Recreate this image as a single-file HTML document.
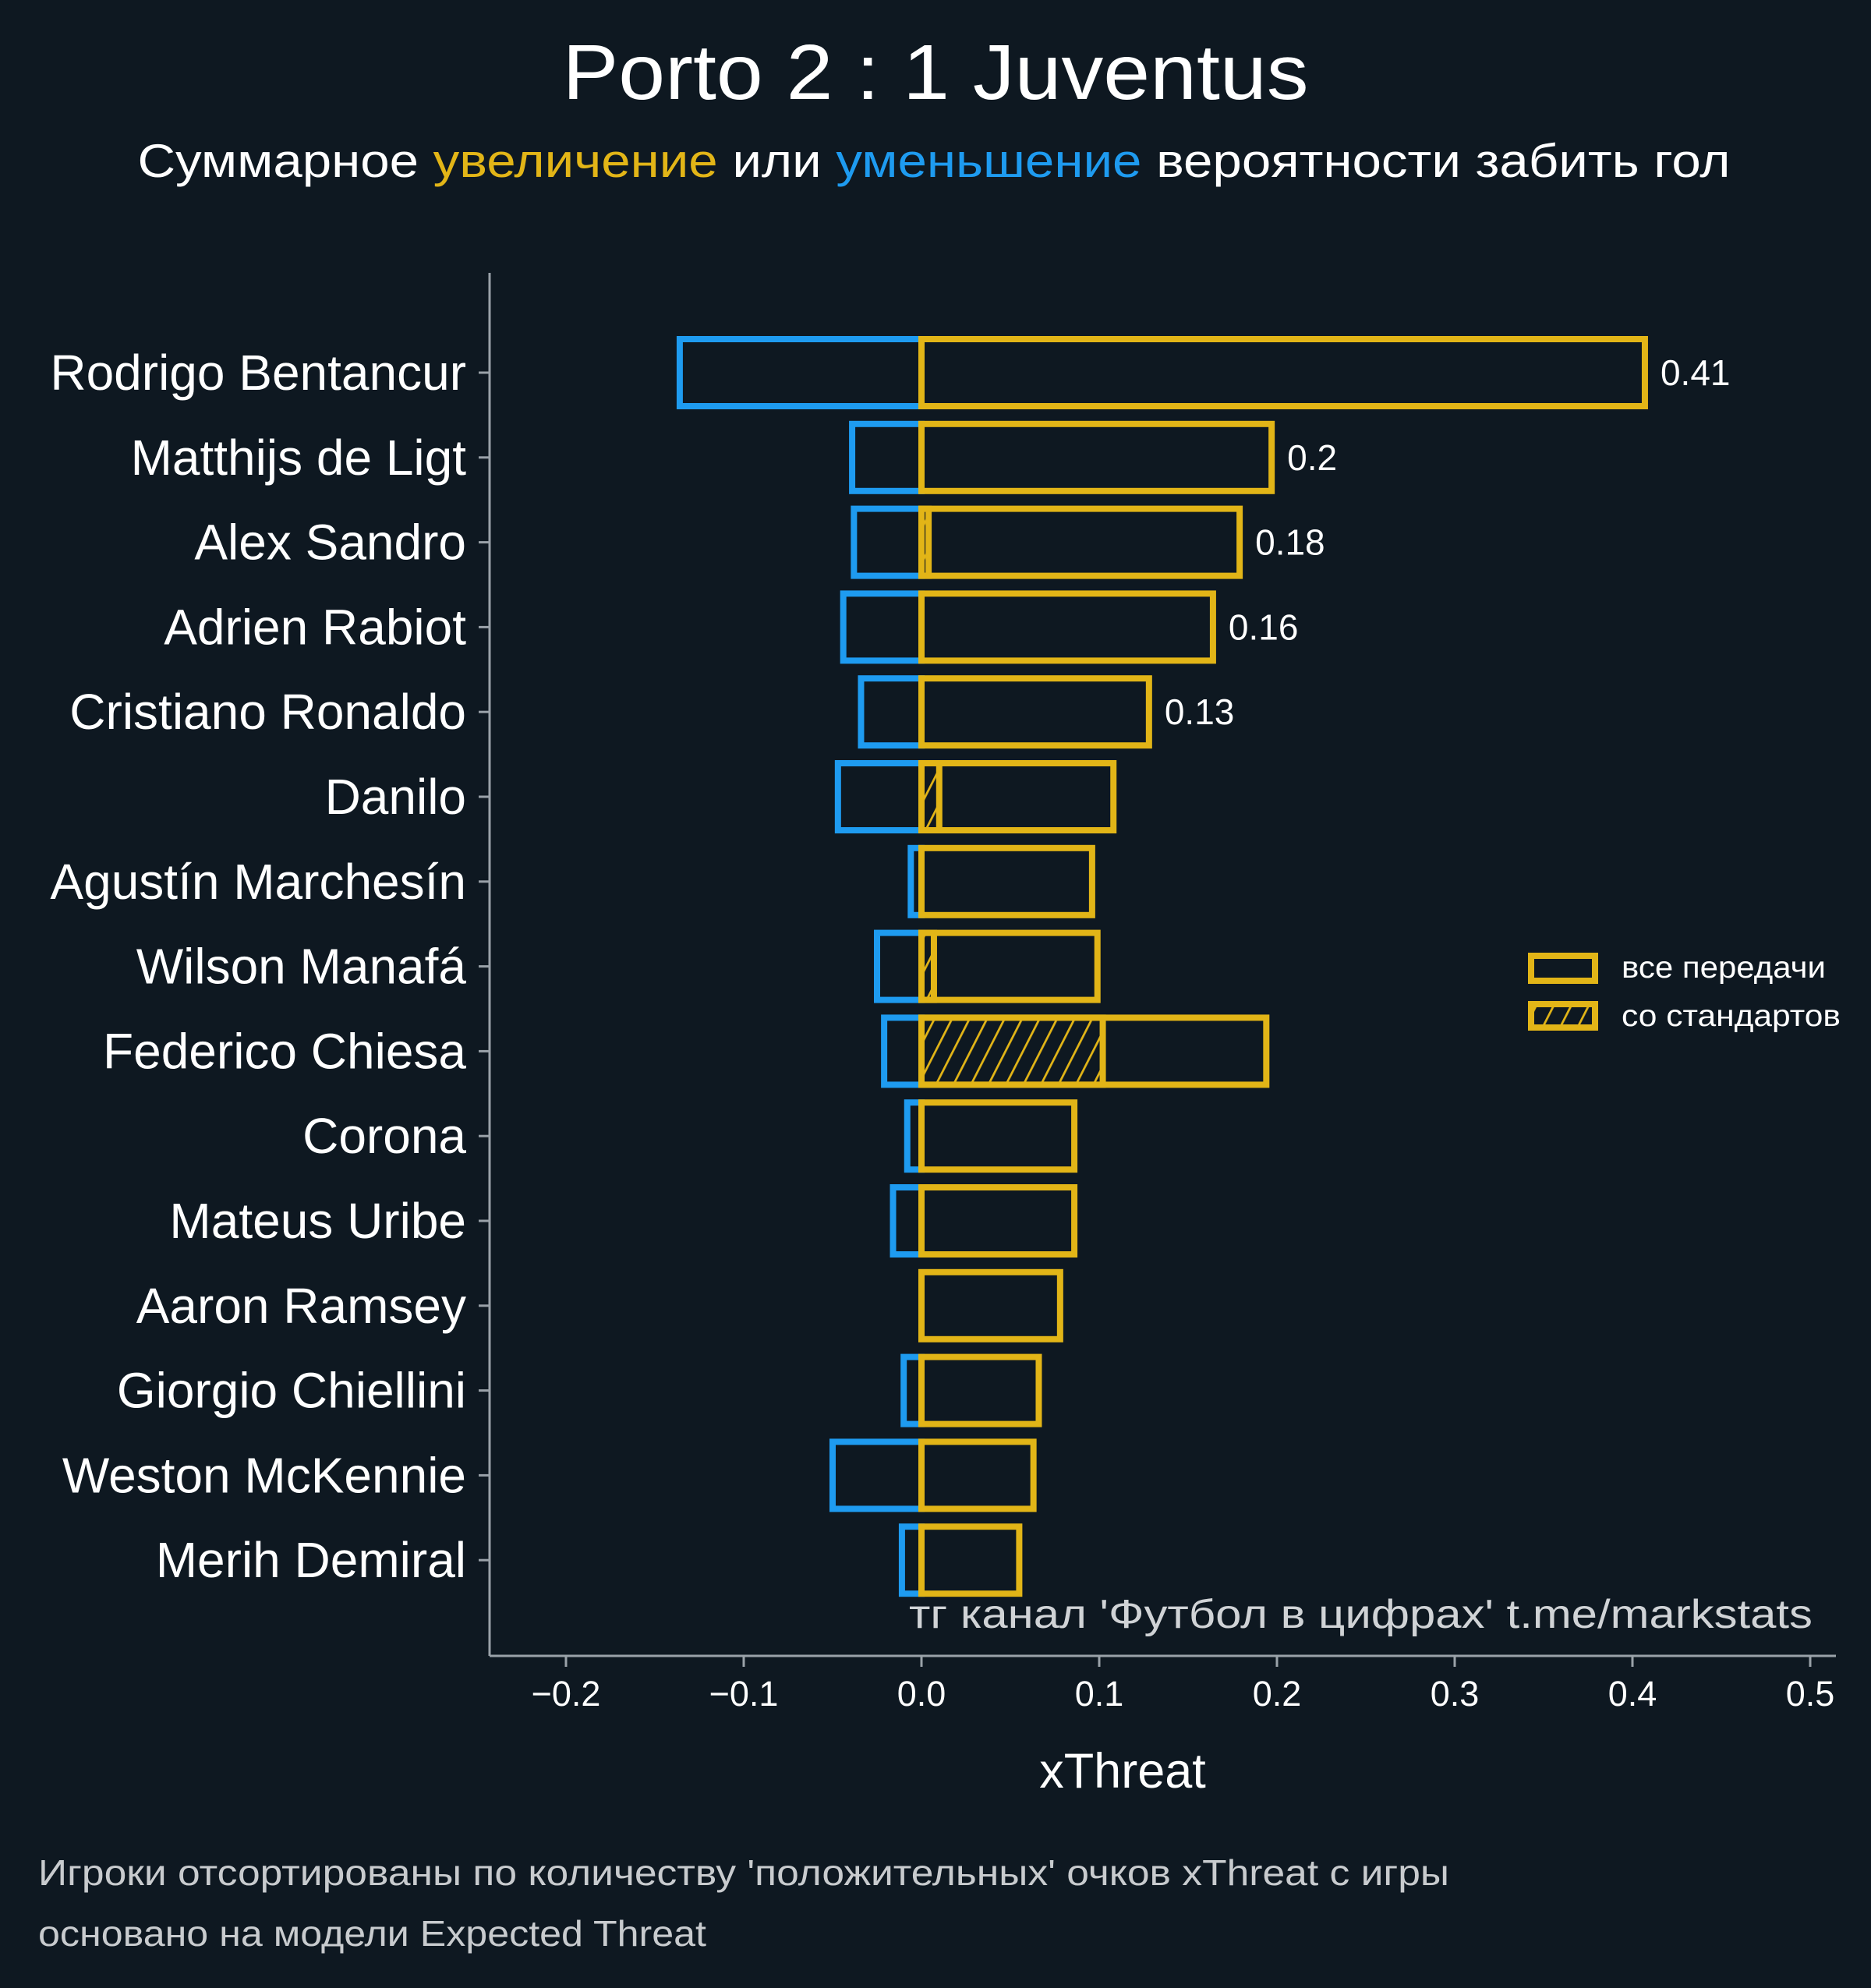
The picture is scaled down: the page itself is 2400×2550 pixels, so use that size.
<!DOCTYPE html>
<html><head><meta charset="utf-8"><style>
html,body{margin:0;padding:0;background:#0e1821;}
svg{display:block;font-family:"Liberation Sans","DejaVu Sans",sans-serif;}
</style></head><body>
<svg id="chart" width="2400" height="2550" viewBox="0 0 2400 2550" xmlns="http://www.w3.org/2000/svg">
<defs>
<pattern id="hatch" patternUnits="userSpaceOnUse" width="20" height="20" patternTransform="rotate(27)">
<line x1="0" y1="0" x2="0" y2="20" stroke="#e2b517" stroke-width="5.5"/>
</pattern>
</defs>
<rect x="0" y="0" width="2400" height="2550" fill="#0e1821"/>
<text x="1200" y="127" text-anchor="middle" font-size="100" fill="#ffffff" textLength="957" lengthAdjust="spacingAndGlyphs">Porto 2 : 1 Juventus</text>
<text x="1198" y="227" text-anchor="middle" font-size="60" fill="#ffffff" textLength="2043" lengthAdjust="spacingAndGlyphs">Суммарное <tspan fill="#e2b517">увеличение</tspan> или <tspan fill="#1e9bf0">уменьшение</tspan> вероятности забить гол</text>
<g id="plot"></g>
<g>
<rect x="1964" y="1226" width="82" height="32" fill="none" stroke="#e2b517" stroke-width="8"/>
<text x="2080" y="1254" font-size="39" fill="#ffffff" textLength="262" lengthAdjust="spacingAndGlyphs">все передачи</text>
<rect x="1964" y="1288" width="82" height="30" fill="url(#hatch)" stroke="#e2b517" stroke-width="8"/>
<text x="2080" y="1316" font-size="39" fill="#ffffff" textLength="281" lengthAdjust="spacingAndGlyphs">со стандартов</text>
</g>
<text x="2325" y="2088" text-anchor="end" font-size="52" fill="#d0d3d6" textLength="1159" lengthAdjust="spacingAndGlyphs">тг канал 'Футбол в цифрах'  t.me/markstats</text>
<text x="1440" y="2293" text-anchor="middle" font-size="63" fill="#ffffff">xThreat</text>
<text x="49" y="2418" font-size="46" fill="#c8cbce" textLength="1810" lengthAdjust="spacingAndGlyphs">Игроки отсортированы по количеству 'положительных' очков xThreat с игры</text>
<text x="49" y="2496" font-size="46" fill="#c8cbce" textLength="857" lengthAdjust="spacingAndGlyphs">основано на модели Expected Threat</text>
</svg>
<script>
const players = ["Rodrigo Bentancur","Matthijs de Ligt","Alex Sandro","Adrien Rabiot","Cristiano Ronaldo","Danilo","Agustín Marchesín","Wilson Manafá","Federico Chiesa","Corona","Mateus Uribe","Aaron Ramsey","Giorgio Chiellini","Weston McKennie","Merih Demiral"];
const positiveXT = [0.407,0.197,0.179,0.164,0.128,0.108,0.096,0.099,0.194,0.086,0.086,0.078,0.066,0.063,0.055];
const negativeXT = [-0.136,-0.039,-0.038,-0.044,-0.034,-0.047,-0.006,-0.025,-0.021,-0.008,-0.016,0,-0.010,-0.050,-0.011];
const setPieceXT = [0,0,0.004,0,0,0.010,0,0.007,0.102,0,0,0,0,0,0];
const valueLabels = ["0.41","0.2","0.18","0.16","0.13"];
const xTicks = [-0.2,-0.1,0.0,0.1,0.2,0.3,0.4,0.5];
const xTickLabels = ["−0.2","−0.1","0.0","0.1","0.2","0.3","0.4","0.5"];

const NS="http://www.w3.org/2000/svg";
const plot=document.getElementById('plot');
const xScale=v=>1182+v*2280;
const yScale=i=>478+i*108.8;
const barH=86;
function mk(tag,attrs){const e=document.createElementNS(NS,tag);for(const k in attrs)e.setAttribute(k,attrs[k]);plot.appendChild(e);return e;}

let e=mk('line',{x1:628,y1:350,x2:628,y2:2124,stroke:'#9aa2a9','stroke-width':3});


e=mk('line',{x1:628,y1:2124,x2:2355,y2:2124,stroke:'#9aa2a9','stroke-width':3});



xTicks.forEach((t,i)=>{
  const x=xScale(t);
  let tk=mk('line',{x1:x,y1:2124,x2:x,y2:2138,stroke:'#9aa2a9','stroke-width':3});
  
  
  let tl=mk('text',{x:x,y:2188,'text-anchor':'middle','font-size':45,fill:'#ffffff'});
  tl.textContent=xTickLabels[i];
  
  
});

players.forEach((p,i)=>{
  const y=yScale(i);
  let tk=mk('line',{x1:614,y1:y,x2:628,y2:y,stroke:'#9aa2a9','stroke-width':3});
  
  
  let lb=mk('text',{x:598,y:y+22,'text-anchor':'end','font-size':64,fill:'#ffffff'});
  lb.textContent=p;
  
  
  if(negativeXT[i]<0){
    const x0=xScale(negativeXT[i]);
    let nb=mk('rect',{x:x0,y:y-barH/2,width:xScale(0)-x0,height:barH,fill:'none',stroke:'#1e9bf0','stroke-width':8});
    
    
  }
  if(setPieceXT[i]>0){
    let sb=mk('rect',{x:xScale(0),y:y-barH/2,width:xScale(setPieceXT[i])-xScale(0),height:barH,fill:'url(#hatch)',stroke:'#e2b517','stroke-width':8});
    
    
  }
  let pb=mk('rect',{x:xScale(0),y:y-barH/2,width:xScale(positiveXT[i])-xScale(0),height:barH,fill:'none',stroke:'#e2b517','stroke-width':8});
  
  
  if(i<valueLabels.length){
    let vl=mk('text',{x:xScale(positiveXT[i])+20,y:y+16,'font-size':46,fill:'#ffffff'});
    vl.textContent=valueLabels[i];
    
    
  }
});
</script>
</body></html>
